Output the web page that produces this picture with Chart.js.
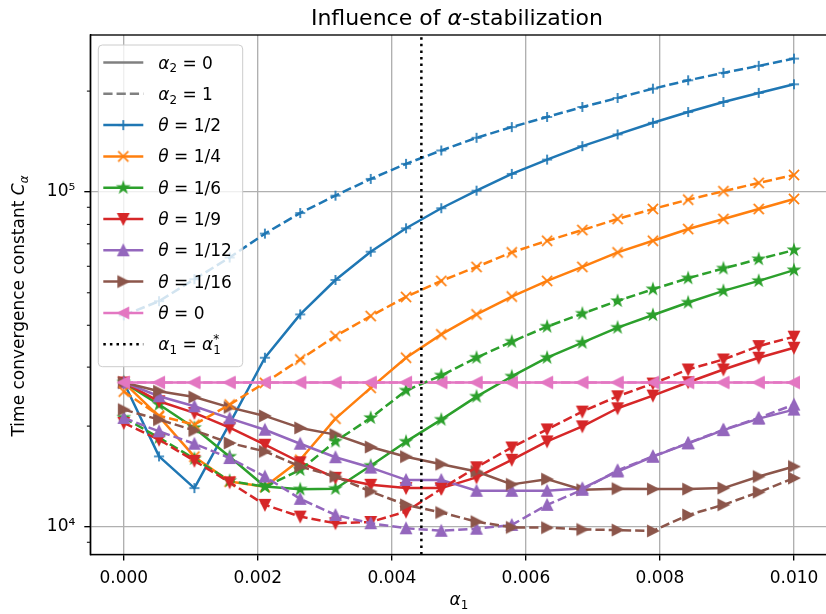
<!DOCTYPE html>
<html>
<head>
<meta charset="utf-8">
<script src="https://cdn.jsdelivr.net/npm/chart.js@4.4.1/dist/chart.umd.min.js"></script>
<style>
  html, body { margin: 0; padding: 0; background: #fff; overflow: hidden; }
  #chart { display: block; }
</style>
</head>
<body>
<canvas id="chart" width="834" height="614" style="width:834px;height:614px"></canvas>
<script>
// alpha_1 sample points
const alpha1 = [0, 0.000526, 0.001053, 0.001579, 0.002105, 0.002632, 0.003158, 0.003684, 0.004211, 0.004737,
  0.005263, 0.005789, 0.006316, 0.006842, 0.007368, 0.007895, 0.008421, 0.008947, 0.009474, 0.01]

// C_alpha, alpha_2 = 0 (solid) and alpha_2 = 1 (dashed)
const cHalf0 = [27000, 16240, 13060, 20340, 32000, 43100, 54600, 66300, 77900, 89400, 100900, 113200, 124900, 137000, 148500, 160900, 173200, 185600, 197500, 209600]
const cHalf1 = [42800, 47200, 54900, 63700, 75100, 86500, 97500, 109400, 121300, 133000, 145100, 156200, 167400, 179300, 190800, 203400, 215400, 226700, 237900, 250100]
const cQuarter0 = [27000, 21350, 16210, 13660, 13180, 15870, 21050, 26020, 32000, 37570, 43100, 48730, 54260, 59740, 66000, 71490, 77490, 83040, 88950, 95280]
const cQuarter1 = [25360, 21490, 20200, 23190, 26930, 31620, 37130, 42620, 48600, 54260, 59740, 66000, 71490, 76960, 83040, 88950, 94820, 100500, 106400, 112400]
const cSixth0 = [27000, 23190, 19750, 16210, 13200, 12950, 13000, 15230, 17970, 20910, 24500, 28130, 32000, 35480, 39350, 42920, 46760, 50650, 54260, 58410]
const cSixth1 = [21200, 18470, 15980, 13730, 13180, 14810, 18000, 21160, 25540, 28320, 32000, 35730, 39620, 43330, 47270, 51240, 55270, 59090, 63010, 67060]
const cNinth0 = [27000, 23720, 21900, 19790, 17600, 15600, 14020, 13360, 13060, 13060, 14060, 15870, 18000, 19970, 22610, 24670, 27040, 29520, 32000, 34280]
const cNinth1 = [20440, 18220, 15760, 13590, 11640, 10740, 10260, 10350, 11110, 13000, 15070, 17270, 19550, 22100, 24550, 26800, 29520, 31620, 34660, 36980]
const cTwelfth0 = [27000, 24550, 22920, 21100, 19510, 17720, 16150, 15040, 13820, 13820, 12820, 12820, 12820, 13040, 14640, 16210, 17760, 19450, 21050, 22400]
const cTwelfth1 = [21160, 19290, 17720, 16060, 14140, 12130, 10860, 10260, 9910, 9740, 9880, 10140, 11640, 12910, 14760, 16240, 17810, 19510, 21160, 23190]
const cSixteenth0 = [27000, 25410, 24420, 22750, 21450, 19750, 18860, 17320, 16210, 15390, 14640, 13400, 13890, 12910, 13010, 12970, 12970, 13060, 14140, 15150]
const cSixteenth1 = [22400, 20910, 19410, 17810, 16810, 15150, 14140, 12760, 11640, 11040, 10370, 9970, 9950, 9830, 9790, 9730, 10860, 11640, 12700, 13990]
const cZero0 = [27000, 27000, 27000, 27000, 27000, 27000, 27000, 27000, 27000, 27000, 27000, 27000, 27000, 27000, 27000, 27000, 27000, 27000, 27000, 27000]
const cZero1 = [27000, 27000, 27000, 27000, 27000, 27000, 27000, 27000, 27000, 27000, 27000, 27000, 27000, 27000, 27000, 27000, 27000, 27000, 27000, 27000]

const alpha1Star = 0.00444

const thetaLabels = ['1/2', '1/4', '1/6', '1/9', '1/12', '1/16', '0']
const thetaColors = ['#1f77b4', '#ff7f0e', '#2ca02c', '#d62728', '#9467bd', '#8c564b', '#e377c2']
const thetaMarkers = ['+', 'x', '*', 'v', '^', '>', '<']
const solidSeries = [cHalf0, cQuarter0, cSixth0, cNinth0, cTwelfth0, cSixteenth0, cZero0]
const dashedSeries = [cHalf1, cQuarter1, cSixth1, cNinth1, cTwelfth1, cSixteenth1, cZero1]

const xTicks = [0, 0.002, 0.004, 0.006, 0.008, 0.010]
const yTicks = [1e4, 1e5]
const yMinorTicks = [9000, 20000, 30000, 40000, 50000, 60000, 70000, 80000, 90000, 200000]
const xMin = -0.0005, xMax = 0.0105
const yMin = 8275, yMax = 294100

const LW = 2.5
const DASH = [9.25, 4]
const DOT = [2.5, 4.1]
const FONT = 'DejaVu Sans'

// matplotlib-like marker images
function makeMarker(shape, color) {
  const s = 20
  const c = document.createElement('canvas')
  c.width = s; c.height = s
  const g = c.getContext('2d')
  g.translate(s / 2, s / 2)
  g.strokeStyle = color
  g.fillStyle = color
  g.lineWidth = 1.7
  g.lineJoin = 'miter'
  const h = 5.07
  g.beginPath()
  if (shape === '+') {
    g.moveTo(-h, 0); g.lineTo(h, 0); g.moveTo(0, -h); g.lineTo(0, h)
    g.stroke()
    return c
  }
  if (shape === 'x') {
    g.moveTo(-h, -h); g.lineTo(h, h); g.moveTo(-h, h); g.lineTo(h, -h)
    g.stroke()
    return c
  }
  if (shape === '*') {
    for (let k = 0; k < 10; k++) {
      const r = k % 2 ? h * 0.381966 : h
      const a = -Math.PI / 2 + k * Math.PI / 5
      if (k === 0) g.moveTo(r * Math.cos(a), r * Math.sin(a))
      else g.lineTo(r * Math.cos(a), r * Math.sin(a))
    }
  } else if (shape === '^') {
    g.moveTo(0, -h); g.lineTo(-h, h); g.lineTo(h, h)
  } else if (shape === 'v') {
    g.moveTo(0, h); g.lineTo(-h, -h); g.lineTo(h, -h)
  } else if (shape === '>') {
    g.moveTo(h, 0); g.lineTo(-h, -h); g.lineTo(-h, h)
  } else if (shape === '<') {
    g.moveTo(-h, 0); g.lineTo(h, -h); g.lineTo(h, h)
  }
  g.closePath()
  g.fill()
  g.stroke()
  return c
}

const markerImgs = thetaColors.map((col, i) => makeMarker(thetaMarkers[i], col))

function toPoints(arr) {
  return alpha1.map((x, i) => ({ x: x, y: arr[i] }))
}

const datasets = []
solidSeries.forEach((arr, i) => {
  datasets.push({ data: toPoints(arr), borderColor: thetaColors[i], borderDash: [], pointStyle: markerImgs[i] })
})
dashedSeries.forEach((arr, i) => {
  datasets.push({ data: toPoints(arr), borderColor: thetaColors[i], borderDash: DASH, pointStyle: markerImgs[i] })
})
datasets.forEach(d => {
  d.borderWidth = LW
  d.pointRadius = 4
  d.borderJoinStyle = 'round'
  d.fill = false
  d.tension = 0
})
datasets.push({
  data: [{ x: alpha1Star, y: yMin }, { x: alpha1Star, y: yMax }],
  borderColor: '#000',
  borderWidth: LW,
  borderDash: DOT,
  pointRadius: 0,
  fill: false
})
datasets.forEach((d, i) => { d.order = -i })

// simple mathtext: parts {t, i (italic), sub, sup, stack}
function drawMath(g, parts, x, y, size, align) {
  const fontFor = p => (p.i ? 'italic ' : '') + ((p.sub || p.sup) ? size * 0.7 : size) + 'px "' + FONT + '"'
  let w = 0
  parts.forEach((p, k) => {
    g.font = fontFor(p)
    p.w = g.measureText(p.t).width
    if (p.stack) w += Math.max(0, p.w - parts[k - 1].w)
    else w += p.w
  })
  let cx = align === 'center' ? x - w / 2 : x
  g.textAlign = 'left'
  g.textBaseline = 'alphabetic'
  parts.forEach((p, k) => {
    g.font = fontFor(p)
    let px = cx
    if (p.stack) px = cx - parts[k - 1].w
    const dy = p.sub ? size * 0.22 : p.sup ? -size * 0.42 : 0
    g.fillText(p.t, px, y + dy)
    if (p.stack) cx += Math.max(0, p.w - parts[k - 1].w)
    else cx += p.w
  })
}

function roundRect(g, x, y, w, h, r) {
  g.beginPath()
  g.moveTo(x + r, y)
  g.lineTo(x + w - r, y); g.quadraticCurveTo(x + w, y, x + w, y + r)
  g.lineTo(x + w, y + h - r); g.quadraticCurveTo(x + w, y + h, x + w - r, y + h)
  g.lineTo(x + r, y + h); g.quadraticCurveTo(x, y + h, x, y + h - r)
  g.lineTo(x, y + r); g.quadraticCurveTo(x, y, x + r, y)
  g.closePath()
}

const decor = {
  id: 'decor',
  afterDraw(chart) {
    const g = chart.ctx
    const a = chart.chartArea
    const ys = chart.scales.y
    g.save()
    // minor y ticks
    g.strokeStyle = '#000'
    g.lineWidth = 1
    yMinorTicks.forEach(v => {
      const p = ys.getPixelForValue(v)
      if (p < a.top || p > a.bottom) return
      g.beginPath(); g.moveTo(a.left, p); g.lineTo(a.left - 3.4, p); g.stroke()
    })
    // spines
    g.lineWidth = 1.35
    g.strokeRect(a.left, a.top, a.right - a.left, a.bottom - a.top)

    g.fillStyle = '#000'
    const midX = (a.left + a.right) / 2
    drawMath(g, [{ t: 'Influence of ' }, { t: 'α', i: 1 }, { t: '-stabilization' }], midX - 2, 25, 22, 'center')
    drawMath(g, [{ t: 'α', i: 1 }, { t: '1', sub: 1 }], midX, 605, 17, 'center')
    g.save()
    g.translate(24, 306)
    g.rotate(-Math.PI / 2)
    drawMath(g, [{ t: 'Time convergence constant ' }, { t: 'C', i: 1 }, { t: 'α', i: 1, sub: 1 }], 0, 0, 17, 'center')
    g.restore()

    // legend
    const bx = 98.3, by = 45, bw = 144.4, bh = 321.7
    roundRect(g, bx, by, bw, bh, 4)
    g.fillStyle = 'rgba(255,255,255,0.8)'
    g.fill()
    g.strokeStyle = '#cccccc'
    g.lineWidth = 1
    g.stroke()

    const hx0 = 103.3, hx1 = 143.3, tx = 158.3
    const rowY = k => 62.5 + k * 31.3
    const line = (k, color, dash) => {
      g.save()
      g.strokeStyle = color
      g.lineWidth = LW
      g.setLineDash(dash)
      g.beginPath(); g.moveTo(hx0, rowY(k)); g.lineTo(hx1, rowY(k)); g.stroke()
      g.restore()
    }
    g.fillStyle = '#000'
    line(0, 'gray', [])
    drawMath(g, [{ t: 'α', i: 1 }, { t: '2', sub: 1 }, { t: ' = 0' }], tx, rowY(0) + 6, 17)
    line(1, 'gray', DASH)
    drawMath(g, [{ t: 'α', i: 1 }, { t: '2', sub: 1 }, { t: ' = 1' }], tx, rowY(1) + 6, 17)
    thetaLabels.forEach((lab, i) => {
      const k = i + 2
      line(k, thetaColors[i], [])
      const img = markerImgs[i]
      g.drawImage(img, (hx0 + hx1) / 2 - img.width / 2, rowY(k) - img.height / 2)
      g.fillStyle = '#000'
      drawMath(g, [{ t: 'θ', i: 1 }, { t: ' = ' + lab }], tx, rowY(k) + 6, 17)
    })
    line(9, '#000', DOT)
    drawMath(g, [{ t: 'α', i: 1 }, { t: '1', sub: 1 }, { t: ' = ' }, { t: 'α', i: 1 }, { t: '1', sub: 1 }, { t: '*', sup: 1, stack: 1 }], tx, rowY(9) + 6, 17)
    g.restore()
  }
}

Chart.defaults.font.family = FONT
Chart.defaults.color = '#000'

new Chart(document.getElementById('chart'), {
  type: 'line',
  data: { datasets: datasets },
  options: {
    responsive: false,
    animation: false,
    devicePixelRatio: 1,
    layout: { padding: { top: 35, right: 2.3, left: 0, bottom: 0 } },
    plugins: {
      legend: { display: false },
      title: { display: false },
      tooltip: { enabled: false }
    },
    scales: {
      x: {
        type: 'linear',
        min: xMin,
        max: xMax,
        bounds: 'data',
        afterBuildTicks: s => { s.ticks = xTicks.map(v => ({ value: v })) },
        afterFit: s => { s.height = 59.5 },
        ticks: {
          font: { size: 17 },
          color: '#000',
          padding: 8,
          maxRotation: 0,
          callback: v => v.toFixed(3)
        },
        grid: { color: '#b0b0b0', lineWidth: 1.35, tickColor: '#000', tickLength: 6, drawTicks: true },
        border: { display: true, color: '#000', width: 1.35 }
      },
      y: {
        type: 'logarithmic',
        min: yMin,
        max: yMax,
        bounds: 'data',
        afterBuildTicks: s => { s.ticks = yTicks.map(v => ({ value: v })) },
        afterFit: s => { s.width = 90.3 },
        ticks: {
          font: { size: 17 },
          color: '#000',
          padding: 9,
          callback: v => (v === 1e4 ? '10⁴' : v === 1e5 ? '10⁵' : '')
        },
        grid: { color: '#b0b0b0', lineWidth: 1.35, tickColor: '#000', tickLength: 6, drawTicks: true },
        border: { display: true, color: '#000', width: 1.35 }
      }
    }
  },
  plugins: [decor]
})
</script>
</body>
</html>
